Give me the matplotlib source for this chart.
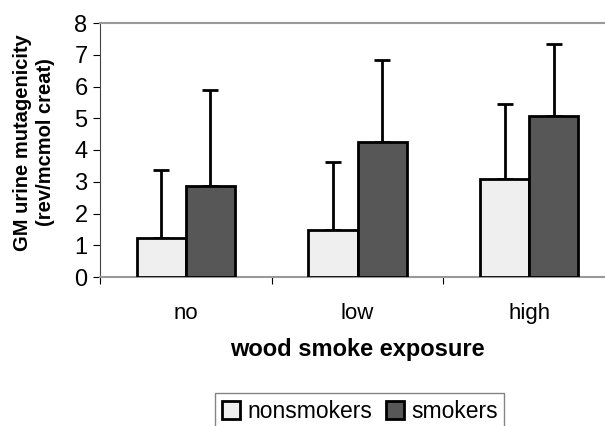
import numpy as np
import matplotlib
matplotlib.use('Agg')
import matplotlib.pyplot as plt

plt.rcParams['font.family'] = ['Liberation Sans', 'DejaVu Sans']

# данные графика
categories = ['no', 'low', 'high']
nonsmokers = [1.22, 1.47, 3.09]
smokers = [2.87, 4.24, 5.08]
nonsmokers_top = [3.37, 3.61, 5.45]
smokers_top = [5.89, 6.83, 7.33]
y_ticks = [0, 1, 2, 3, 4, 5, 6, 7, 8]

fig = plt.figure(figsize=(6.05, 4.26), dpi=100)
# рамка выходит за правый край, как на исходнике
ax = fig.add_axes([100 / 605, 1 - 277 / 426, 515 / 605, 254 / 426])

x = np.arange(len(categories))
w = 0.287
err_ns = [np.zeros(3), np.array(nonsmokers_top) - np.array(nonsmokers)]
err_s = [np.zeros(3), np.array(smokers_top) - np.array(smokers)]

ax.bar(x - w / 2, nonsmokers, w, color='#efefef', edgecolor='black',
       linewidth=2, label='nonsmokers', zorder=3)
ax.bar(x + w / 2, smokers, w, color='#575757', edgecolor='black',
       linewidth=2, label='smokers', zorder=3)
ax.errorbar(x - w / 2, nonsmokers, yerr=err_ns, fmt='none', ecolor='black',
            elinewidth=2, capsize=6, capthick=2, zorder=2)
ax.errorbar(x + w / 2, smokers, yerr=err_s, fmt='none', ecolor='black',
            elinewidth=2, capsize=6, capthick=2, zorder=2)

ax.set_xlim(-0.5, 2.5)
ax.set_ylim(0, 8)
ax.set_yticks(y_ticks)
ax.set_yticklabels([str(v) for v in y_ticks], fontsize=17)
ax.set_xticks([-0.5, 0.5, 1.5, 2.5])
ax.set_xticklabels([])
ax.set_xticks(x, minor=True)
ax.set_xticklabels(categories, minor=True, fontsize=16)
ax.tick_params(axis='x', which='minor', length=0, pad=19)
ax.tick_params(axis='x', which='major', length=5, direction='out', color='black')
ax.tick_params(axis='y', length=5, direction='out', pad=4)

for s in ['top', 'right', 'bottom']:
    ax.spines[s].set_color('#999999')
    ax.spines[s].set_linewidth(1.5)
ax.spines['left'].set_color('#444444')

ax.set_xlabel('wood smoke exposure', fontsize=17, fontweight='bold', labelpad=10)
ax.set_ylabel('GM urine mutagenicity\n(rev/mcmol creat)', fontsize=14.5,
              fontweight='bold', linespacing=1.25)
ax.yaxis.set_label_coords(-0.088, 0.53)

leg = fig.legend(loc='upper left', bbox_to_anchor=(215 / 605, 1 - 393 / 426),
                 ncol=2, fontsize=16.5, frameon=True, fancybox=False,
                 handlelength=0.8, handleheight=0.8, handletextpad=0.3,
                 columnspacing=0.6, borderpad=0.3, borderaxespad=0)
leg.get_frame().set_edgecolor('#666666')
leg.get_frame().set_linewidth(1)

fig.savefig('out.png', dpi=100)
